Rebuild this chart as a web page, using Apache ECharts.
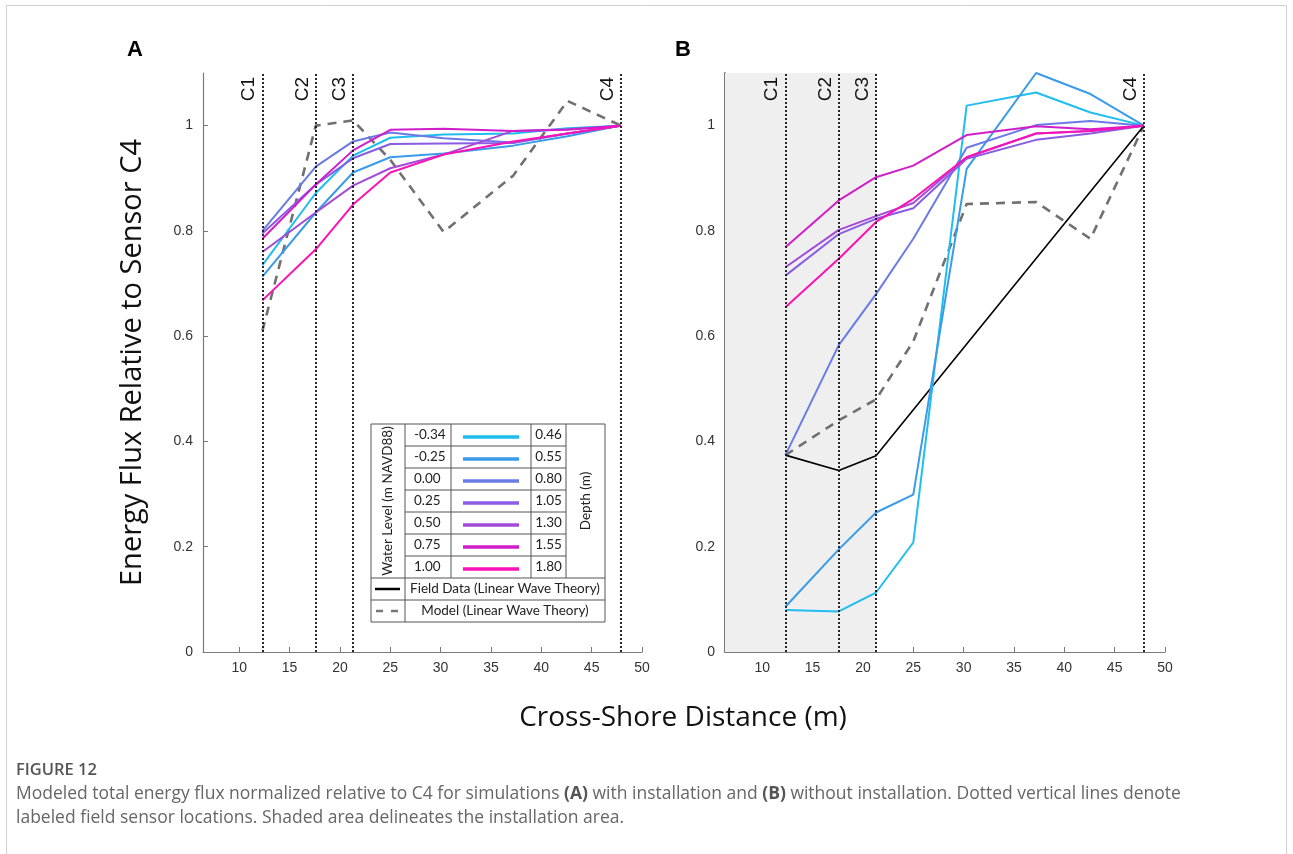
<!DOCTYPE html>
<html>
<head>
<meta charset="utf-8">
<title>Energy flux relative to C4</title>
<script src="https://cdn.jsdelivr.net/npm/echarts@6/dist/echarts.min.js"></script>
<style>
  html, body { margin: 0; padding: 0; background: #fff; }
  #chart { width: 1293px; height: 854px; }
</style>
</head>
<body>
<div id="chart"></div>
<script>
// Cross-shore positions of the model output points (m)
const xPos = [12.3, 17.6, 21.3, 25, 30.3, 37.2, 42.6, 47.9];

// Field sensor locations (m)
const sensorNames = ['C1', 'C2', 'C3', 'C4'];
const sensorX = [12.3, 17.6, 21.3, 47.9];

// Simulated water levels (m NAVD88) and the corresponding depths (m)
const waterLevels = ['-0.34', '-0.25', '0.00', '0.25', '0.50', '0.75', '1.00'];
const depths = ['0.46', '0.55', '0.80', '1.05', '1.30', '1.55', '1.80'];
const levelColors = ['#1fbdf0', '#3a9be9', '#6b7be6', '#8a5ce4', '#a44ad9', '#d01ecb', '#fb12b6'];

// Panel A: with installation, energy flux normalised by C4
const fluxA = [
  [0.735, 0.872, 0.943, 0.977, 0.983, 0.985, 0.995, 1.0],
  [0.713, 0.835, 0.911, 0.940, 0.947, 0.962, 0.980, 1.0],
  [0.800, 0.922, 0.970, 0.987, 0.976, 0.968, 0.985, 1.0],
  [0.795, 0.888, 0.938, 0.965, 0.966, 0.967, 0.985, 1.0],
  [0.760, 0.835, 0.886, 0.919, 0.945, 0.990, 0.993, 1.0],
  [0.785, 0.888, 0.953, 0.992, 0.994, 0.990, 0.992, 1.0],
  [0.668, 0.765, 0.850, 0.911, 0.945, 0.970, 0.985, 1.0]
];
const modelA = [0.610, 1.000, 1.010, 0.935, 0.798, 0.905, 1.047, 1.0];

// Panel B: without installation
const fluxB = [
  [0.080, 0.077, 0.113, 0.208, 1.038, 1.063, 1.025, 1.0],
  [0.086, 0.195, 0.265, 0.299, 0.918, 1.100, 1.060, 1.0],
  [0.374, 0.583, 0.680, 0.785, 0.958, 1.001, 1.009, 1.0],
  [0.715, 0.794, 0.823, 0.843, 0.937, 0.973, 0.985, 1.0],
  [0.731, 0.802, 0.828, 0.853, 0.940, 0.985, 0.990, 1.0],
  [0.769, 0.858, 0.902, 0.924, 0.982, 0.999, 0.993, 1.0],
  [0.655, 0.747, 0.817, 0.861, 0.940, 0.985, 0.990, 1.0]
];
const modelB = [0.374, 0.440, 0.480, 0.590, 0.851, 0.855, 0.785, 1.0];

// Field data (linear wave theory) at the four sensors
const fieldX = [12.3, 17.6, 21.3, 47.9];
const fieldB = [0.374, 0.345, 0.373, 1.0];

// Axis ticks
const xTicks = [10, 15, 20, 25, 30, 35, 40, 45, 50];
const yTicks = [0, 0.2, 0.4, 0.6, 0.8, 1];

const pair = (xs, ys) => xs.map((x, i) => [x, ys[i]]);

const tickFont = { fontFamily: 'Liberation Sans, Arial, sans-serif', fontSize: 14, color: '#333' };

function xAxisFor(gridIndex, minX) {
  return {
    type: 'value', gridIndex, min: minX, max: 50,
    axisLine: { lineStyle: { color: '#7a7a7a', width: 1.2 } },
    axisTick: { inside: true, length: 5, customValues: xTicks, lineStyle: { color: '#7a7a7a' } },
    axisLabel: Object.assign({ customValues: xTicks, margin: 9 }, tickFont),
    splitLine: { show: false }
  };
}
function yAxisFor(gridIndex, lineWidth, extra) {
  return Object.assign({
    type: 'value', gridIndex, min: 0, max: 1.1,
    axisLine: { show: true, lineStyle: { color: '#7a7a7a', width: lineWidth } },
    axisTick: { show: true, inside: true, length: 5, customValues: yTicks, lineStyle: { color: '#7a7a7a' } },
    axisLabel: Object.assign({ customValues: yTicks, margin: 10 }, tickFont),
    splitLine: { show: false }
  }, extra || {});
}

// Dotted vertical lines at the sensors, labelled along the top
function sensorMarks() {
  return {
    silent: true, symbol: 'none', animation: false,
    lineStyle: { color: '#111', width: 1.8, type: [2, 2] },
    label: {
      show: true, position: 'insideEndTop', distance: 4,
      fontFamily: 'Liberation Sans, Arial, sans-serif', fontSize: 19, color: '#111',
      formatter: p => p.name
    },
    data: sensorNames.map((n, i) => ({ name: n, xAxis: sensorX[i] }))
  };
}

function levelSeries(values, gi, withMarks, shade) {
  const out = values.map((v, k) => ({
    type: 'line', name: waterLevels[k], xAxisIndex: gi, yAxisIndex: gi,
    data: pair(xPos, v), symbol: 'none', z: 3 + k * 0.01,
    lineStyle: { color: levelColors[k], width: 2 }
  }));
  if (withMarks) out[0].markLine = sensorMarks();
  if (shade) {
    out[0].markArea = {
      silent: true,
      itemStyle: { color: '#efefef' },
      data: [[{ xAxis: shade[0] }, { xAxis: shade[1] }]]
    };
  }
  return out;
}

const series = [
  ...levelSeries(fluxA, 0, true, null),
  {
    type: 'line', name: 'Model A', xAxisIndex: 0, yAxisIndex: 0, data: pair(xPos, modelA),
    symbol: 'none', z: 2, lineStyle: { color: '#707070', width: 2.6, type: [9, 7] }
  },
  ...levelSeries(fluxB, 1, true, [6.3, 21.3]),
  {
    type: 'line', name: 'Model B', xAxisIndex: 1, yAxisIndex: 1, data: pair(xPos, modelB),
    symbol: 'none', z: 2, lineStyle: { color: '#707070', width: 2.6, type: [9, 7] }
  },
  {
    type: 'line', name: 'Field B', xAxisIndex: 1, yAxisIndex: 1, data: pair(fieldX, fieldB),
    symbol: 'none', z: 2.5, lineStyle: { color: '#000', width: 1.6 }
  }
];

// Legend table (water level / line colour / depth)
function legendTable() {
  const c = [371, 405, 451, 531, 566, 605];
  const top = 424, rowH = 22, nRows = waterLevels.length;
  const mid = top + rowH * nRows;
  const bottom = mid + rowH * 2;
  const stroke = { stroke: '#555', lineWidth: 1 };
  const font = '13.5px Lato, "Open Sans", sans-serif';
  const els = [];
  els.push({ type: 'rect', shape: { x: c[0], y: top, width: c[5] - c[0], height: bottom - top },
             style: { fill: '#fff', stroke: '#555', lineWidth: 1 } });
  const line = (x1, y1, x2, y2, st) => els.push({ type: 'line', shape: { x1, y1, x2, y2 }, style: Object.assign({}, stroke, st || {}) });
  line(c[1], top, c[1], bottom);
  line(c[2], top, c[2], mid);
  line(c[3], top, c[3], mid);
  line(c[4], top, c[4], mid);
  for (let r = 1; r < nRows; r++) line(c[1], top + r * rowH, c[4], top + r * rowH);
  line(c[0], mid, c[5], mid);
  line(c[0], mid + rowH, c[5], mid + rowH);
  waterLevels.forEach((lv, r) => {
    const cy = top + r * rowH + rowH / 2;
    els.push({ type: 'text', style: { text: lv, x: c[1] + 9, y: cy, font, fill: '#222', align: 'left', verticalAlign: 'middle' } });
    els.push({ type: 'line', shape: { x1: c[2] + 12, y1: cy + 2, x2: c[3] - 12, y2: cy + 2 },
               style: { stroke: levelColors[r], lineWidth: 3.5 } });
    els.push({ type: 'text', style: { text: depths[r], x: (c[3] + c[4]) / 2, y: cy, font, fill: '#222', align: 'center', verticalAlign: 'middle' } });
  });
  els.push({ type: 'text', x: (c[0] + c[1]) / 2, y: (top + mid) / 2, rotation: Math.PI / 2,
             style: { text: 'Water Level (m NAVD88)', x: 0, y: 0, font, fill: '#222', align: 'center', verticalAlign: 'middle' } });
  els.push({ type: 'text', x: (c[4] + c[5]) / 2, y: (top + mid) / 2, rotation: Math.PI / 2,
             style: { text: 'Depth (m)', x: 0, y: 0, font, fill: '#222', align: 'center', verticalAlign: 'middle' } });
  const r8 = mid + rowH / 2, r9 = mid + rowH * 1.5;
  els.push({ type: 'line', shape: { x1: c[0] + 4, y1: r8, x2: c[1] - 5, y2: r8 }, style: { stroke: '#000', lineWidth: 2.5 } });
  els.push({ type: 'text', style: { text: 'Field Data (Linear Wave Theory)', x: (c[1] + c[5]) / 2, y: r8, font, fill: '#222', align: 'center', verticalAlign: 'middle' } });
  els.push({ type: 'line', shape: { x1: c[0] + 5, y1: r9, x2: c[1] - 4, y2: r9 }, style: { stroke: '#777', lineWidth: 2.5, lineDash: [7, 8] } });
  els.push({ type: 'text', style: { text: 'Model (Linear Wave Theory)', x: (c[1] + c[5]) / 2, y: r9, font, fill: '#222', align: 'center', verticalAlign: 'middle' } });
  return { type: 'group', z: 50, children: els };
}

const captionFont = '17.5px "Open Sans", sans-serif';

const option = {
  animation: false,
  backgroundColor: '#fff',
  grid: [
    { left: 203, top: 73, width: 439, height: 579 },
    { left: 725, top: 73, width: 440, height: 579 }
  ],
  xAxis: [xAxisFor(0, 6.4), xAxisFor(1, 6.3)],
  yAxis: [
    yAxisFor(0, 1.2, {
      name: 'Energy Flux Relative to Sensor C4', nameLocation: 'middle', nameGap: 56, nameRotate: 90,
      nameTextStyle: { fontFamily: '"Open Sans", sans-serif', fontSize: 29, color: '#111' }
    }),
    yAxisFor(1, 2)
  ],
  series,
  graphic: [
    { type: 'rect', shape: { x: 6.5, y: 5.5, width: 1280, height: 900 }, style: { fill: 'none', stroke: '#d0d0d0', lineWidth: 1 }, silent: true },
    { type: 'text', style: { text: 'A', x: 135, y: 50, font: 'bold 22px "Liberation Sans", Arial, sans-serif', fill: '#000', align: 'center', verticalAlign: 'middle' } },
    { type: 'text', style: { text: 'B', x: 683, y: 50, font: 'bold 22px "Liberation Sans", Arial, sans-serif', fill: '#000', align: 'center', verticalAlign: 'middle' } },
    { type: 'text', style: { text: 'Cross-Shore Distance (m)', x: 683, y: 718, font: '28px "Open Sans", sans-serif', fill: '#111', align: 'center', verticalAlign: 'middle' } },
    legendTable(),
    { type: 'text', style: { text: 'FIGURE 12', x: 16, y: 770, font: '600 16.5px "Open Sans", sans-serif', fill: '#555', align: 'left', verticalAlign: 'middle' } },
    { type: 'text', style: {
        x: 16, y: 794, align: 'left', verticalAlign: 'middle',
        text: '{n|Modeled total energy flux normalized relative to C4 for simulations }{b|(A)}{n| with installation and }{b|(B)}{n| without installation. Dotted vertical lines denote}',
        rich: {
          n: { font: captionFont, fill: '#666' },
          b: { font: 'bold 17.5px "Open Sans", sans-serif', fill: '#555' }
        }
      } },
    { type: 'text', style: { text: 'labeled field sensor locations. Shaded area delineates the installation area.', x: 16, y: 818, font: captionFont, fill: '#666', align: 'left', verticalAlign: 'middle' } }
  ]
};

const chart = echarts.init(document.getElementById('chart'), null, { renderer: 'canvas' });
chart.setOption(option);
</script>
</body>
</html>
